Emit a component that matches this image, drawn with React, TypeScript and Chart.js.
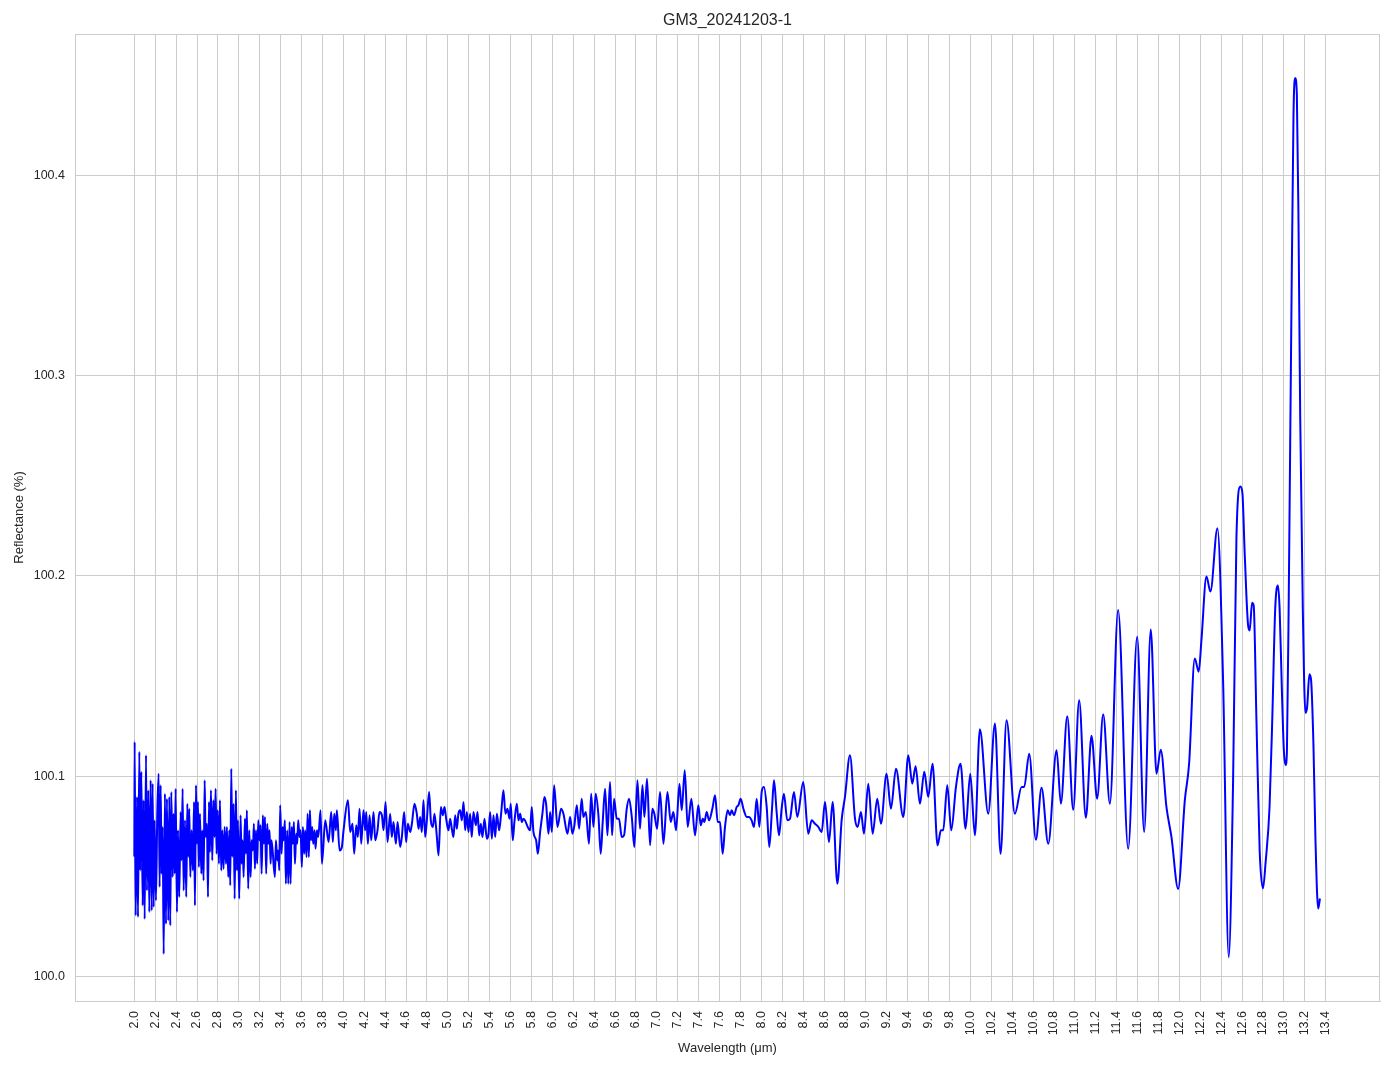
import React, { useEffect, useRef } from "react";
import { Chart, registerables } from "chart.js";

Chart.register(...registerables);

const chartTitle = "GM3_20241203-1";
const xAxisTitle = "Wavelength (μm)";
const yAxisTitle = "Reflectance (%)";

const xTickValues = [
  2.0, 2.2, 2.4, 2.6, 2.8, 3.0, 3.2, 3.4, 3.6, 3.8, 4.0, 4.2, 4.4, 4.6, 4.8, 5.0, 5.2, 5.4, 5.6, 5.8,
  6.0, 6.2, 6.4, 6.6, 6.8, 7.0, 7.2, 7.4, 7.6, 7.8, 8.0, 8.2, 8.4, 8.6, 8.8, 9.0, 9.2, 9.4, 9.6, 9.8,
  10.0, 10.2, 10.4, 10.6, 10.8, 11.0, 11.2, 11.4, 11.6, 11.8, 12.0, 12.2, 12.4, 12.6, 12.8, 13.0, 13.2, 13.4,
];
const xTickLabels = [
  "2.0", "2.2", "2.4", "2.6", "2.8", "3.0", "3.2", "3.4", "3.6", "3.8", "4.0", "4.2", "4.4", "4.6", "4.8", "5.0", "5.2", "5.4", "5.6", "5.8",
  "6.0", "6.2", "6.4", "6.6", "6.8", "7.0", "7.2", "7.4", "7.6", "7.8", "8.0", "8.2", "8.4", "8.6", "8.8", "9.0", "9.2", "9.4", "9.6", "9.8",
  "10.0", "10.2", "10.4", "10.6", "10.8", "11.0", "11.2", "11.4", "11.6", "11.8", "12.0", "12.2", "12.4", "12.6", "12.8", "13.0", "13.2", "13.4",
];
const yTickValues = [100.0, 100.1, 100.2, 100.3, 100.4];
const yTickLabels = ["100.0", "100.1", "100.2", "100.3", "100.4"];

// [wavelength µm, reflectance %]
const segmentShortWave: [number, number][] = [
  [2.000, 100.0600], [2.003, 100.1172], [2.013, 100.0305], [2.026, 100.0897], [2.035, 100.0297],
  [2.048, 100.1122], [2.057, 100.0530], [2.067, 100.1022], [2.080, 100.0355], [2.089, 100.0880],
  [2.099, 100.0288], [2.112, 100.1105], [2.121, 100.0430], [2.134, 100.0930], [2.143, 100.0322],
  [2.156, 100.0980], [2.166, 100.0330], [2.175, 100.0963], [2.185, 100.0347], [2.194, 100.0780],
  [2.207, 100.0380], [2.220, 100.0822], [2.233, 100.1013], [2.242, 100.0447], [2.252, 100.0955],
  [2.261, 100.0513], [2.271, 100.0747], [2.281, 100.0113], [2.293, 100.0913], [2.303, 100.0263],
  [2.312, 100.0888], [2.325, 100.0280], [2.335, 100.0897], [2.344, 100.0255], [2.354, 100.0922],
  [2.367, 100.0497], [2.376, 100.0813], [2.386, 100.0513], [2.395, 100.0938], [2.408, 100.0322],
  [2.418, 100.0730], [2.430, 100.0397], [2.443, 100.0822], [2.453, 100.0580], [2.462, 100.0938],
  [2.472, 100.0430], [2.485, 100.0780], [2.497, 100.0397], [2.507, 100.0863], [2.516, 100.0597],
  [2.526, 100.0838], [2.536, 100.0497], [2.548, 100.0730], [2.561, 100.0530], [2.571, 100.0872],
  [2.580, 100.0355], [2.590, 100.0955], [2.599, 100.0663], [2.609, 100.0872], [2.618, 100.0547],
  [2.628, 100.0813], [2.641, 100.0513], [2.650, 100.0730], [2.663, 100.0480], [2.673, 100.0980],
  [2.682, 100.0697], [2.695, 100.0763], [2.705, 100.0397], [2.714, 100.0872], [2.724, 100.0622],
  [2.733, 100.0930], [2.746, 100.0580], [2.756, 100.0880], [2.768, 100.0697], [2.778, 100.0938],
  [2.787, 100.0613], [2.797, 100.0830], [2.810, 100.0563], [2.819, 100.0880], [2.832, 100.0530],
  [2.842, 100.0730], [2.854, 100.0538], [2.864, 100.0747], [2.877, 100.0563], [2.886, 100.0747],
  [2.899, 100.0497], [2.909, 100.0730], [2.918, 100.0455], [2.928, 100.1038], [2.937, 100.0597],
  [2.950, 100.0863], [2.960, 100.0388], [2.972, 100.0930], [2.982, 100.0530], [2.991, 100.0780],
  [3.004, 100.0388], [3.017, 100.0805], [3.026, 100.0563], [3.036, 100.0680], [3.046, 100.0497],
  [3.058, 100.0788], [3.068, 100.0613], [3.077, 100.0830], [3.090, 100.0438], [3.100, 100.0730],
  [3.113, 100.0497], [3.122, 100.0680], [3.135, 100.0630], [3.144, 100.0763], [3.154, 100.0538],
  [3.164, 100.0730], [3.176, 100.0563], [3.186, 100.0780], [3.199, 100.0680], [3.208, 100.0755],
  [3.218, 100.0513], [3.230, 100.0805], [3.240, 100.0663], [3.250, 100.0797], [3.262, 100.0513],
  [3.272, 100.0763], [3.281, 100.0663], [3.294, 100.0730], [3.304, 100.0563], [3.313, 100.0680],
  [3.345, 100.0497], [3.355, 100.0680], [3.368, 100.0580], [3.377, 100.0630], [3.387, 100.0530],
  [3.396, 100.0855], [3.409, 100.0613], [3.419, 100.0747], [3.428, 100.0680], [3.441, 100.0780],
  [3.450, 100.0463], [3.463, 100.0730], [3.473, 100.0463], [3.486, 100.0772], [3.495, 100.0463],
  [3.505, 100.0747], [3.517, 100.0663], [3.527, 100.0772], [3.537, 100.0563], [3.549, 100.0713],
  [3.559, 100.0663], [3.568, 100.0780], [3.581, 100.0697], [3.591, 100.0730], [3.603, 100.0547],
  [3.613, 100.0747], [3.626, 100.0613], [3.635, 100.0730], [3.648, 100.0597], [3.658, 100.0813],
  [3.670, 100.0597], [3.680, 100.0830], [3.690, 100.0680], [3.702, 100.0747], [3.712, 100.0663],
  [3.725, 100.0730], [3.734, 100.0638], [3.747, 100.0730], [3.760, 100.0697], [3.782, 100.0830],
  [3.795, 100.0563],
];

const segmentMidWave: [number, number][] = [
  [3.827, 100.0780], [3.859, 100.0672], [3.884, 100.0822], [3.900, 100.0672], [3.913, 100.0813],
  [3.929, 100.0730], [3.938, 100.0830], [3.964, 100.0630], [3.986, 100.0647], [4.002, 100.0730],
  [4.044, 100.0880], [4.066, 100.0722], [4.088, 100.0763], [4.104, 100.0613], [4.123, 100.0755],
  [4.139, 100.0697], [4.155, 100.0838], [4.171, 100.0663], [4.193, 100.0830], [4.209, 100.0730],
  [4.219, 100.0822], [4.235, 100.0663], [4.251, 100.0805], [4.267, 100.0680], [4.289, 100.0822],
  [4.305, 100.0680], [4.327, 100.0730], [4.346, 100.0822], [4.369, 100.0805], [4.385, 100.0730],
  [4.404, 100.0872], [4.423, 100.0672], [4.448, 100.0813], [4.464, 100.0697], [4.480, 100.0772],
  [4.503, 100.0663], [4.519, 100.0772], [4.544, 100.0647], [4.560, 100.0697], [4.582, 100.0822],
  [4.601, 100.0672], [4.617, 100.0763], [4.640, 100.0722], [4.656, 100.0763], [4.681, 100.0863],
  [4.703, 100.0813], [4.720, 100.0738], [4.735, 100.0797], [4.751, 100.0722], [4.767, 100.0880],
  [4.783, 100.0697], [4.799, 100.0780], [4.821, 100.0922], [4.837, 100.0780], [4.857, 100.0747],
  [4.872, 100.0813], [4.895, 100.0697], [4.911, 100.0605], [4.933, 100.0847], [4.952, 100.0805],
  [4.968, 100.0847], [4.984, 100.0788], [5.006, 100.0730], [5.022, 100.0788], [5.038, 100.0738],
  [5.054, 100.0697], [5.070, 100.0805], [5.086, 100.0738], [5.101, 100.0813], [5.118, 100.0830],
  [5.134, 100.0780], [5.150, 100.0872], [5.166, 100.0730], [5.182, 100.0822], [5.197, 100.0722],
  [5.213, 100.0813], [5.229, 100.0697], [5.245, 100.0822], [5.268, 100.0755], [5.284, 100.0822],
  [5.300, 100.0705], [5.316, 100.0763], [5.331, 100.0697], [5.351, 100.0788], [5.373, 100.0688],
  [5.389, 100.0713], [5.405, 100.0822], [5.421, 100.0688], [5.437, 100.0805], [5.453, 100.0697],
  [5.469, 100.0813], [5.491, 100.0730], [5.510, 100.0813], [5.532, 100.0930], [5.551, 100.0813],
  [5.570, 100.0838], [5.590, 100.0788], [5.602, 100.0863], [5.621, 100.0680], [5.637, 100.0772],
  [5.660, 100.0863], [5.676, 100.0780], [5.692, 100.0813], [5.708, 100.0772], [5.724, 100.0788],
  [5.787, 100.0730], [5.803, 100.0847], [5.819, 100.0722], [5.845, 100.0680], [5.861, 100.0613],
  [5.883, 100.0722], [5.905, 100.0813], [5.924, 100.0897], [5.940, 100.0863], [5.963, 100.0713],
  [5.979, 100.0822], [5.995, 100.0722],
];

const segmentLongWave: [number, number][] = [
  [6.017, 100.0955], [6.049, 100.0747], [6.084, 100.0838], [6.106, 100.0813], [6.145, 100.0713],
  [6.170, 100.0797], [6.192, 100.0713], [6.211, 100.0755], [6.234, 100.0855], [6.256, 100.0738],
  [6.281, 100.0888], [6.297, 100.0797], [6.320, 100.0822], [6.351, 100.0663], [6.371, 100.0913],
  [6.393, 100.0747], [6.415, 100.0913], [6.441, 100.0805], [6.463, 100.0613], [6.482, 100.0772],
  [6.505, 100.0938], [6.527, 100.0705], [6.552, 100.0972], [6.572, 100.0705], [6.591, 100.0888],
  [6.616, 100.0788], [6.638, 100.0788], [6.664, 100.0697], [6.686, 100.0705], [6.712, 100.0838],
  [6.734, 100.0888], [6.760, 100.0797], [6.785, 100.0647], [6.814, 100.0980], [6.839, 100.0738],
  [6.862, 100.0955], [6.881, 100.0797], [6.906, 100.0988], [6.935, 100.0655], [6.957, 100.0838],
  [6.976, 100.0813], [7.002, 100.0738], [7.031, 100.0922], [7.063, 100.0663], [7.101, 100.0922],
  [7.133, 100.0772], [7.158, 100.0822], [7.184, 100.0730], [7.216, 100.0963], [7.238, 100.0830],
  [7.267, 100.1030], [7.295, 100.0747], [7.330, 100.0888], [7.365, 100.0705], [7.397, 100.0855],
  [7.420, 100.0755], [7.439, 100.0788], [7.455, 100.0772], [7.477, 100.0822], [7.499, 100.0780],
  [7.531, 100.0838], [7.557, 100.0905], [7.582, 100.0772], [7.604, 100.0772], [7.630, 100.0613],
  [7.652, 100.0747], [7.678, 100.0830], [7.700, 100.0805], [7.716, 100.0830], [7.738, 100.0805],
  [7.764, 100.0847], [7.780, 100.0855], [7.802, 100.0888], [7.828, 100.0838], [7.860, 100.0797],
  [7.882, 100.0797], [7.907, 100.0780], [7.930, 100.0747], [7.955, 100.0888], [7.981, 100.0747],
  [8.003, 100.0922], [8.025, 100.0947], [8.051, 100.0847], [8.076, 100.0647], [8.102, 100.0838],
  [8.121, 100.0980], [8.146, 100.0822], [8.169, 100.0705], [8.194, 100.0838], [8.216, 100.0913],
  [8.248, 100.0780], [8.274, 100.0788], [8.312, 100.0922], [8.344, 100.0797], [8.401, 100.0972],
  [8.449, 100.0713], [8.481, 100.0780], [8.513, 100.0763], [8.545, 100.0747], [8.577, 100.0722],
  [8.609, 100.0872], [8.647, 100.0672], [8.682, 100.0872], [8.727, 100.0463],
];

const segmentThermal: [number, number][] = [
  [8.768, 100.0780], [8.800, 100.0897], [8.848, 100.1105], [8.896, 100.0788], [8.921, 100.0747],
  [8.953, 100.0822], [8.982, 100.0713], [9.023, 100.0963], [9.065, 100.0713], [9.109, 100.0888],
  [9.144, 100.0763], [9.198, 100.1013], [9.240, 100.0838], [9.288, 100.1038], [9.358, 100.0797],
  [9.406, 100.1105], [9.444, 100.0963], [9.476, 100.1050], [9.517, 100.0863], [9.559, 100.1022],
  [9.597, 100.0897], [9.638, 100.1063], [9.686, 100.0655], [9.718, 100.0730], [9.740, 100.0730],
  [9.779, 100.0955], [9.817, 100.0730], [9.862, 100.0947], [9.906, 100.1063], [9.954, 100.0738],
  [9.999, 100.1013], [10.043, 100.0705], [10.091, 100.1235], [10.171, 100.0813], [10.235, 100.1263],
  [10.289, 100.0613], [10.346, 100.1280], [10.426, 100.0813], [10.490, 100.0947], [10.515, 100.0947],
  [10.563, 100.1113], [10.627, 100.0683], [10.681, 100.0943], [10.745, 100.0663], [10.825, 100.1130],
  [10.866, 100.0863], [10.927, 100.1300], [10.984, 100.0833], [11.041, 100.1380], [11.105, 100.0793],
  [11.159, 100.1202], [11.213, 100.0888], [11.271, 100.1310], [11.335, 100.0863], [11.414, 100.1830],
  [11.510, 100.0638], [11.596, 100.1697], [11.663, 100.0722], [11.726, 100.1733], [11.781, 100.1013],
  [11.822, 100.1133], [11.876, 100.0847], [11.924, 100.0697], [11.988, 100.0438], [12.052, 100.0880],
  [12.093, 100.1063], [12.147, 100.1588], [12.185, 100.1522], [12.211, 100.1680], [12.259, 100.1997],
  [12.297, 100.1922], [12.364, 100.2238], [12.418, 100.1480], [12.472, 100.0097], [12.514, 100.0980],
  [12.546, 100.2195], [12.584, 100.2447], [12.603, 100.2414], [12.625, 100.2112], [12.657, 100.1756],
  [12.673, 100.1728], [12.695, 100.1866], [12.711, 100.1852], [12.737, 100.1289], [12.768, 100.0631],
  [12.800, 100.0440], [12.825, 100.0570], [12.863, 100.0850], [12.889, 100.1289], [12.917, 100.1838],
  [12.943, 100.1953], [12.959, 100.1838], [12.981, 100.1426], [13.000, 100.1125], [13.016, 100.1056],
  [13.029, 100.1125], [13.048, 100.1975], [13.070, 100.3210], [13.092, 100.4307], [13.108, 100.4486],
  [13.124, 100.4403], [13.140, 100.3759], [13.156, 100.2798], [13.181, 100.1838], [13.206, 100.1317],
  [13.222, 100.1344], [13.244, 100.1509], [13.260, 100.1481], [13.283, 100.1152], [13.302, 100.0686],
  [13.328, 100.0340], [13.345, 100.0390],
];

const X_MIN = 1.4324;
const X_MAX = 13.9196;
const Y_MIN = 99.9878;
const Y_MAX = 100.4706;

const GRID = "#cccccc";
const TEXT = "#262626";
const FONT = "'Liberation Sans', Arial, Helvetica, sans-serif";

const framePlugin = {
  id: "frameAndTitle",
  afterDraw(chart: any) {
    const { ctx, chartArea } = chart;
    ctx.save();
    ctx.strokeStyle = GRID;
    ctx.lineWidth = 1;
    ctx.strokeRect(
      Math.round(chartArea.left) + 0.5,
      Math.round(chartArea.top) + 0.5,
      Math.round(chartArea.right - chartArea.left) - 1,
      Math.round(chartArea.bottom - chartArea.top)
    );
    ctx.fillStyle = TEXT;
    ctx.font = `16px ${FONT}`;
    ctx.textAlign = "center";
    ctx.textBaseline = "middle";
    ctx.fillText(chartTitle, (chartArea.left + chartArea.right) / 2, 21);
    ctx.restore();
  },
};

export default function App() {
  const canvasRef = useRef<HTMLCanvasElement | null>(null);

  useEffect(() => {
    const canvas = canvasRef.current;
    if (!canvas) return;
    const points = [...segmentShortWave, ...segmentMidWave, ...segmentLongWave, ...segmentThermal].map(
      ([x, y]) => ({ x, y })
    );
    const chart = new Chart(canvas, {
      type: "line",
      data: {
        datasets: [
          {
            data: points,
            borderColor: "#0000ff",
            backgroundColor: "#0000ff",
            borderWidth: 2,
            pointRadius: 0,
            fill: false,
            cubicInterpolationMode: "monotone",
          },
        ],
      },
      options: {
        animation: false,
        responsive: false,
        devicePixelRatio: 1,
        layout: { padding: { left: 0, top: 34, right: 14, bottom: 0 } },
        plugins: {
          legend: { display: false },
          title: { display: false },
          tooltip: { enabled: false },
        },
        scales: {
          x: {
            type: "linear",
            min: X_MIN,
            max: X_MAX,
            afterBuildTicks: (scale: any) => {
              scale.ticks = xTickValues.map((v) => ({ value: v }));
            },
            afterFit: (scale: any) => {
              scale.height = 68;
            },
            ticks: {
              autoSkip: false,
              minRotation: 90,
              maxRotation: 90,
              padding: 10,
              color: TEXT,
              font: { family: FONT, size: 12.5 },
              callback: (_v: any, i: number) => xTickLabels[i],
            },
            grid: { color: GRID, lineWidth: 1, drawTicks: false },
            border: { display: true, color: GRID, width: 1 },
            title: {
              display: true,
              text: xAxisTitle,
              color: TEXT,
              font: { family: FONT, size: 13 },
              padding: { top: 0, bottom: 13 },
            },
          },
          y: {
            type: "linear",
            min: Y_MIN,
            max: Y_MAX,
            afterBuildTicks: (scale: any) => {
              scale.ticks = yTickValues.map((v) => ({ value: v }));
            },
            afterFit: (scale: any) => {
              scale.width = 75;
            },
            ticks: {
              padding: 10,
              color: TEXT,
              font: { family: FONT, size: 12.5 },
              callback: (_v: any, i: number) => yTickLabels[i],
            },
            grid: { color: GRID, lineWidth: 1, drawTicks: false },
            border: { display: true, color: GRID, width: 1 },
            title: {
              display: true,
              text: yAxisTitle,
              color: TEXT,
              font: { family: FONT, size: 13 },
              padding: { top: 12, bottom: 0 },
            },
          },
        },
      },
      plugins: [framePlugin],
    } as any);
    return () => chart.destroy();
  }, []);

  return (
    <div style={{ position: "absolute", left: 0, top: 0, width: 1394, height: 1069, background: "#ffffff" }}>
      <canvas ref={canvasRef} width={1394} height={1069} style={{ display: "block", width: 1394, height: 1069 }} />
    </div>
  );
}
